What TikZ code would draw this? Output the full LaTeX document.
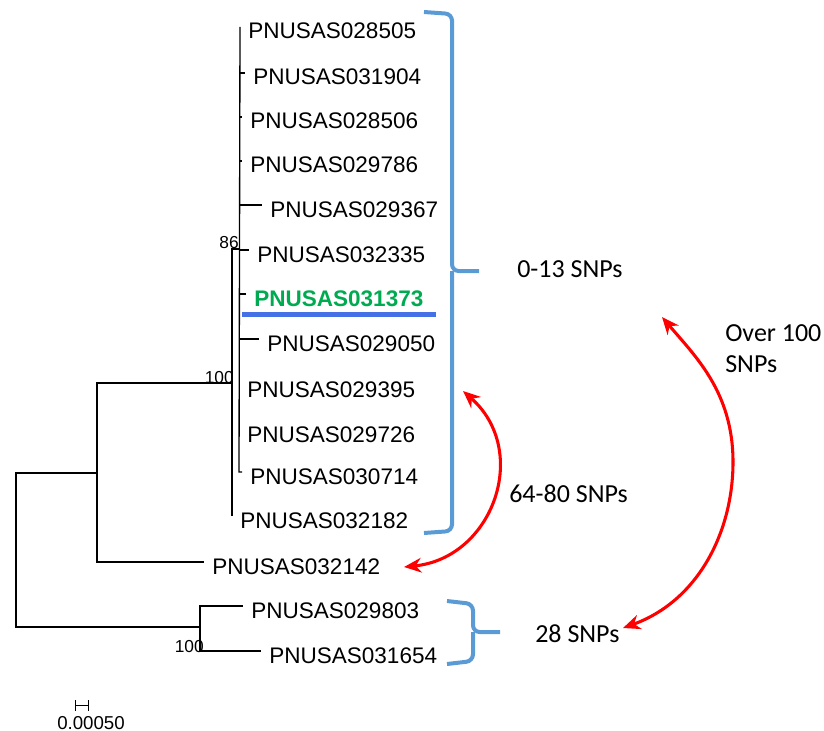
\documentclass[tikz,border=0pt]{standalone}
\usepackage{fontspec}
\setmainfont{Liberation Sans}
\newfontfamily\calibrifont{Carlito}
\usetikzlibrary{arrows.meta}
\definecolor{bracketblue}{RGB}{91,155,213}
\definecolor{lineblue}{RGB}{68,114,230}
\definecolor{leafgreen}{RGB}{0,170,80}
\definecolor{arrowred}{RGB}{255,0,0}
\begin{document}
\begin{tikzpicture}[x=0.75pt,y=-0.75pt,
  leaf/.style={anchor=west, inner xsep=6pt, inner ysep=0pt, text height=18pt, text depth=0pt, font=\fontsize{16.9}{20}\selectfont},
  branch/.style={line width=1pt, black},
  boot/.style={anchor=base east, inner sep=0pt, font=\fontsize{13}{15}\selectfont},
  snp/.style={anchor=base west, inner sep=0pt, font=\calibrifont\fontsize{19.5}{23.25}\selectfont},
  brace/.style={line width=3pt, bracketblue, rounded corners=5pt},
  dist/.style={line width=2.3pt, arrowred, {Stealth[length=13pt,width=11pt]}-{Stealth[length=13pt,width=11pt]}}
]
\useasboundingbox (0,0) rectangle (824,731);

% leaves
\node[leaf] (L1) at (240,27) {PNUSAS028505};
\node[leaf] (L2) at (245,73) {PNUSAS031904};
\node[leaf] (L3) at (242,117) {PNUSAS028506};
\node[leaf] (L4) at (242,161) {PNUSAS029786};
\node[leaf] (L5) at (262,205) {PNUSAS029367};
\node[leaf] (L6) at (249,250) {PNUSAS032335};
\node[leaf, text=leafgreen, font=\bfseries\fontsize{16.9}{20}\selectfont] (L7) at (246,294) {PNUSAS031373};
\node[leaf] (L8) at (259,339) {PNUSAS029050};
\node[leaf] (L9) at (239,385) {PNUSAS029395};
\node[leaf] (L10) at (239,430) {PNUSAS029726};
\node[leaf] (L11) at (242,472) {PNUSAS030714};
\node[leaf] (L12) at (232,516) {PNUSAS032182};
\node[leaf] (L13) at (204,562) {PNUSAS032142};
\node[leaf] (L14) at (243,606) {PNUSAS029803};
\node[leaf] (L15) at (261,651) {PNUSAS031654};

% internal nodes
\coordinate (n86) at (239,249);
\coordinate (n100a) at (232,383);
\coordinate (n96) at (97,473);
\coordinate (root) at (16,550);
\coordinate (n100b) at (200,627);

% clade 86
\draw[branch] (L1.west) -- (n86 |- L11.west) -- (L11.west);
\foreach \k in {2,3,4,5,6,7,8}{
  \draw[branch] (n86 |- L\k.west) -- (L\k.west);
}
% clade 100 (upper)
\draw[branch] (n86) -- (n100a |- n86) -- (L12.west);
\draw[branch] (n100a) -- (n96 |- n100a) -- (n96 |- L13.west) -- (L13.west);
% root
\draw[branch] (n96) -- (root |- n96) -- (root |- n100b) -- (n100b);
% clade 100 (lower)
\draw[branch] (L14.west) -- (n100b |- L14.west) -- (n100b |- L15.west) -- (L15.west);

% bootstrap values
\node[boot] (b86) at (239,248) {86};
\node[boot] (b100a) at (234,383) {100};
\node[boot] (b100b) at (204,652) {100};

% highlight underline
\draw[line width=3.5pt, lineblue] (242,314.5) -- (436,314.5);

% brackets
\draw[brace] (424,12) -- (452,14) -- (452,271) -- (479,271);
\draw[brace] (452,271) -- (452,531) -- (424,533);
\draw[brace] (447,601) -- (473,604) -- (473,632) -- (500,632);
\draw[brace] (473,632) -- (473,661) -- (447,664);

% SNP labels
\node[snp] (s013) at (517,277) {0-13 SNPs};
\node[snp] (s6480) at (509,502) {64-80 SNPs};
\node[snp] (s28) at (535,642) {28 SNPs};
\node[snp] (s100) at (725,341) {\begin{tabular}[t]{@{}l@{}}Over 100\\SNPs\end{tabular}};

% distance arrows
\coordinate (a1s) at (404,567);
\coordinate (a1e) at (463,391);
\draw[dist] (a1s) .. controls (493,558) and (531,451) .. (a1e);
\coordinate (a2s) at (623,628);
\coordinate (a2m) at (733,462);
\coordinate (a2e) at (662,317);
\draw[dist] (a2s) .. controls (698,601) and (733,532) .. (a2m) .. controls (733,392) and (695,356) .. (a2e);

% scale bar
\coordinate (sb1) at (75,705.5);
\coordinate (sb2) at (89,705.5);
\draw[line width=0.9pt, {Bar[width=8pt]}-{Bar[width=8pt]}] (sb1) -- (sb2);
\node[anchor=base west, inner sep=0pt, font=\fontsize{14}{16}\selectfont] (scale) at (57,729) {0.00050};
\end{tikzpicture}
\end{document}
